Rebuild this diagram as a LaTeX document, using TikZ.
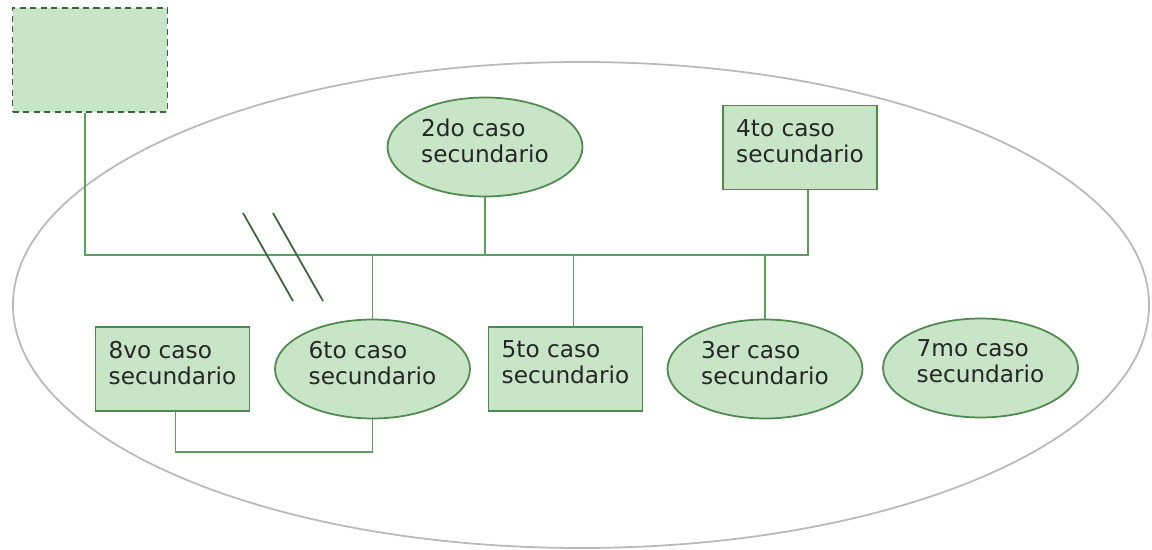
\documentclass[tikz,border=0pt]{standalone}
\usepackage{fontspec}
\setmainfont{DejaVu Sans}
\usepackage{xcolor}
\usetikzlibrary{positioning,shapes.geometric,calc}

\definecolor{verdefondo}{RGB}{200,230,199}
\definecolor{verdeborde}{RGB}{78,138,78}
\definecolor{verdelinea}{RGB}{92,158,92}
\definecolor{verdecorte}{RGB}{58,100,58}

\begin{document}
\begin{tikzpicture}[x=0.02cm,y=-0.02cm,
  every node/.style={font=\fontsize{13.2}{14.8}\selectfont, text=black!85, align=left, inner sep=0pt},
  caja/.style={draw=verdeborde,fill=verdefondo,line width=1pt,minimum width=3.08cm,minimum height=1.68cm,text depth=7.5pt},
  elipse/.style={ellipse,draw=verdeborde,fill=verdefondo,line width=1pt,minimum width=3.9cm,minimum height=1.98cm,text depth=7.5pt},
  linea/.style={draw=verdelinea,line width=1.1pt},
  corte/.style={draw=verdecorte,line width=1pt}]
  \useasboundingbox (0,0) rectangle (1152,550);

  % contorno general
  \draw[gray!55,line width=1pt] (581,305) ellipse [x radius=568, y radius=243];

  % caso principal (sin texto)
  \node[draw=verdecorte,fill=verdefondo,dashed,dash pattern=on 3.5pt off 2.5pt,line width=1.1pt,
    minimum width=3.1cm,minimum height=2.08cm] (inicio) at (90,60) {};

  % fila de arriba
  \node[elipse] (c2) at (485,147) {2do caso\\secundario};
  \node[caja] (c4) at (800,147.5) {4to caso\\secundario};

  % fila de abajo
  \node[caja] (c8) at (172.5,369) {8vo caso\\secundario};
  \node[elipse] (c6) at (372.5,369) {6to caso\\secundario};
  \node[caja] (c5) at (565.5,369) {5to caso\\secundario};
  \node[elipse] (c3) at (765,369) {3er caso\\secundario};
  \node[elipse] (c7) at (980.5,368) {7mo caso\\secundario};

  \coordinate (tronco) at (0,255);
  \coordinate (abajo) at (0,452);

  \draw[linea] ($(inicio.south)+(-5,0)$) |- ($(c4.south |- tronco)+(8,0)$) -- ($(c4.south)+(8,0)$);
  \draw[linea] (c2.south) -- (c2.south |- tronco);
  \draw[linea] (c6.north) -- (c6.north |- tronco);
  \draw[linea] ($(c5.north)+(8,0)$) -- ($(c5.north |- tronco)+(8,0)$);
  \draw[linea] (c3.north) -- (c3.north |- tronco);
  \draw[linea] ($(c8.south)+(3,0)$) |- (c6.south |- abajo) -- (c6.south);

  % marca de corte
  \draw[corte] (243,213) -- (293,301);
  \draw[corte] (273,213) -- (323,301);
\end{tikzpicture}
\end{document}
